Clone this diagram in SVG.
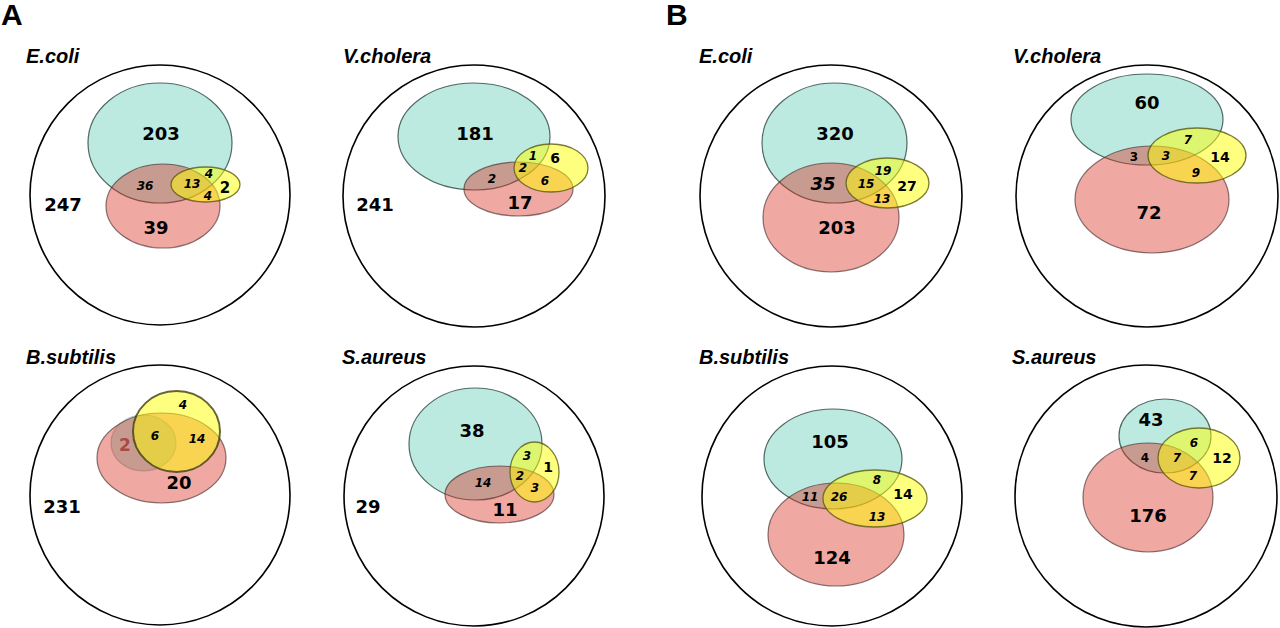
<svg xmlns="http://www.w3.org/2000/svg" width="1280" height="628" viewBox="0 0 1280 628">
<style>
.bg{fill:#fff}
.outer{fill:none;stroke:#000;stroke-width:1.6}
.teal{fill:rgb(90,202,178);fill-opacity:0.4;stroke:#1e3a34;stroke-opacity:0.75;stroke-width:1.2}
.red{fill:rgb(217,37,25);fill-opacity:0.4;stroke:#3a2020;stroke-opacity:0.6;stroke-width:1.2}
.yel{fill:#ffff00;fill-opacity:0.5;stroke:#5a5a10;stroke-opacity:0.8;stroke-width:1.3}
.panel{font-family:"Liberation Sans",Arial,sans-serif;font-weight:bold;font-size:30px;fill:#000}
.title{font-family:"Liberation Sans",Arial,sans-serif;font-weight:bold;font-style:italic;font-size:20px;fill:#000}
.big{font-family:"DejaVu Sans",sans-serif;font-weight:bold;font-size:18px;text-anchor:middle;fill:#000}
.mid{font-family:"DejaVu Sans",sans-serif;font-weight:bold;font-size:14px;text-anchor:middle;fill:#000}
.sm{font-family:"DejaVu Sans",sans-serif;font-weight:bold;font-size:12px;text-anchor:middle;fill:#000}
.it{font-family:"DejaVu Sans",sans-serif;font-weight:bold;font-style:italic;font-size:12px;text-anchor:middle;fill:#000}
.itbig{font-family:"DejaVu Sans",sans-serif;font-weight:bold;font-style:italic;font-size:18px;text-anchor:middle;fill:#000}
.redlbl{font-family:"DejaVu Sans",sans-serif;font-weight:bold;font-size:17px;text-anchor:middle;fill:#a84a46}
</style>
<rect class="bg" x="0" y="0" width="1280" height="628"/>
<text class="panel" x="1" y="25">A</text>
<text class="panel" x="666" y="25">B</text>

<g id="A-ecoli">
<text class="title" x="26" y="63">E.coli</text>
<circle class="outer" cx="160" cy="195" r="130"/>
<ellipse class="teal" cx="160" cy="143" rx="72" ry="60"/>
<ellipse class="red" cx="163" cy="206" rx="57" ry="42"/>
<ellipse class="yel" cx="205.5" cy="184.5" rx="34.5" ry="17.5"/>
<text class="big" x="161" y="140">203</text>
<text class="it" x="145" y="190">36</text>
<text class="it" x="192" y="188">13</text>
<text class="it" x="209" y="178">4</text>
<text class="it" x="208" y="200">4</text>
<text class="mid" x="225" y="192.5" style="font-size:15px">2</text>
<text class="big" x="63" y="210.5">247</text>
<text class="big" x="156" y="233.5">39</text>
</g>

<g id="A-vcholera">
<text class="title" x="343" y="63">V.cholera</text>
<circle class="outer" cx="474" cy="196" r="131"/>
<ellipse class="teal" cx="474" cy="136.5" rx="76" ry="53.5"/>
<ellipse class="red" cx="518.5" cy="189" rx="54.5" ry="27"/>
<ellipse class="yel" cx="551" cy="168" rx="37" ry="24"/>
<text class="big" x="475" y="139.5">181</text>
<text class="it" x="533" y="160">1</text>
<text class="mid" x="555" y="163">6</text>
<text class="it" x="523" y="172">2</text>
<text class="it" x="545" y="185">6</text>
<text class="it" x="492" y="183">2</text>
<text class="big" x="520" y="208.5">17</text>
<text class="big" x="375" y="210.5">241</text>
</g>

<g id="B-ecoli">
<text class="title" x="699" y="63">E.coli</text>
<circle class="outer" cx="831" cy="196" r="131"/>
<ellipse class="teal" cx="834.5" cy="143" rx="72.5" ry="60"/>
<ellipse class="red" cx="831" cy="217.5" rx="68" ry="54.5"/>
<ellipse class="yel" cx="887.5" cy="183" rx="41.5" ry="25"/>
<text class="big" x="835" y="139.5">320</text>
<text class="itbig" x="823" y="189.5">35</text>
<text class="it" x="866" y="188">15</text>
<text class="it" x="883" y="175">19</text>
<text class="mid" x="907" y="191">27</text>
<text class="it" x="882" y="203">13</text>
<text class="big" x="837" y="233.5">203</text>
</g>

<g id="B-vcholera">
<text class="title" x="1013" y="63">V.cholera</text>
<circle class="outer" cx="1147" cy="196" r="131"/>
<ellipse class="teal" cx="1147" cy="119.5" rx="76" ry="45.5"/>
<ellipse class="red" cx="1152" cy="199.5" rx="77" ry="53.5"/>
<ellipse class="yel" cx="1197" cy="155.5" rx="49" ry="27.5"/>
<text class="big" x="1147" y="108.5">60</text>
<text class="it" x="1188" y="144">7</text>
<text class="sm" x="1134" y="161">3</text>
<text class="it" x="1166" y="160">3</text>
<text class="mid" x="1220" y="162">14</text>
<text class="it" x="1196" y="177">9</text>
<text class="big" x="1149" y="218.5">72</text>
</g>

<g id="A-bsubtilis">
<text class="title" x="26" y="364">B.subtilis</text>
<circle class="outer" cx="160" cy="495" r="130"/>
<ellipse class="teal" cx="143.5" cy="443" rx="32.5" ry="28" style="stroke-opacity:0.25"/>
<ellipse class="red" cx="161.5" cy="458" rx="64.5" ry="45"/>
<ellipse class="yel" cx="176.5" cy="431.5" rx="43.5" ry="40.5" style="stroke-width:2;stroke:#3f3f10"/>
<text class="it" x="183" y="409">4</text>
<text class="it" x="155" y="440">6</text>
<text class="it" x="197" y="443">14</text>
<text class="redlbl" x="125" y="451">2</text>
<text class="big" x="179" y="488.5">20</text>
<text class="big" x="62" y="512.5">231</text>
</g>

<g id="A-saureus">
<text class="title" x="342" y="364">S.aureus</text>
<circle class="outer" cx="474" cy="496" r="130"/>
<ellipse class="teal" cx="475.5" cy="444" rx="66.5" ry="56"/>
<ellipse class="red" cx="499.5" cy="494.5" rx="54.5" ry="28.5"/>
<ellipse class="yel" cx="534.5" cy="472" rx="24.5" ry="30"/>
<text class="big" x="472" y="436.5">38</text>
<text class="it" x="527" y="460">3</text>
<text class="mid" x="548" y="472">1</text>
<text class="it" x="520" y="480">2</text>
<text class="it" x="535" y="492">3</text>
<text class="it" x="483" y="487">14</text>
<text class="big" x="505" y="515.5">11</text>
<text class="big" x="368" y="512.5">29</text>
</g>

<g id="B-bsubtilis">
<text class="title" x="699" y="364">B.subtilis</text>
<circle class="outer" cx="832" cy="496" r="130"/>
<ellipse class="teal" cx="833" cy="459" rx="69" ry="50"/>
<ellipse class="red" cx="836" cy="534.5" rx="68" ry="51.5"/>
<ellipse class="yel" cx="875" cy="498.5" rx="52" ry="28.5"/>
<text class="big" x="830" y="447.5">105</text>
<text class="it" x="877" y="484">8</text>
<text class="it" x="810" y="501">11</text>
<text class="it" x="839" y="501">26</text>
<text class="mid" x="903" y="499">14</text>
<text class="it" x="877" y="521">13</text>
<text class="big" x="832" y="563.5">124</text>
</g>

<g id="B-saureus">
<text class="title" x="1012" y="364">S.aureus</text>
<circle class="outer" cx="1146" cy="496" r="131"/>
<ellipse class="teal" cx="1165" cy="436" rx="46" ry="37"/>
<ellipse class="red" cx="1148" cy="497.5" rx="65" ry="54.5"/>
<ellipse class="yel" cx="1199" cy="458" rx="41" ry="30"/>
<text class="big" x="1151" y="425.5">43</text>
<text class="it" x="1194" y="447">6</text>
<text class="sm" x="1145" y="462">4</text>
<text class="it" x="1177" y="462">7</text>
<text class="mid" x="1222" y="463">12</text>
<text class="it" x="1193" y="480">7</text>
<text class="big" x="1148" y="521.5">176</text>
</g>
</svg>
